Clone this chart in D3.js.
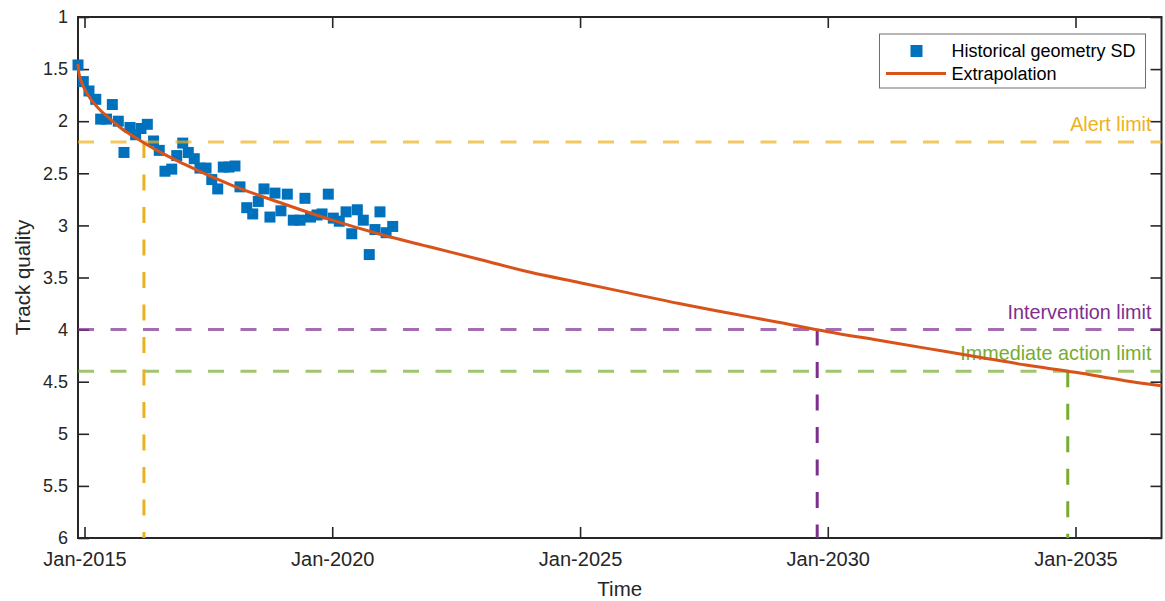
<!DOCTYPE html>
<html>
<head>
<meta charset="utf-8">
<script src="https://cdn.jsdelivr.net/npm/d3@7"></script>
<style>
  html, body { margin: 0; padding: 0; background: #fff; }
  svg { display: block; font-family: "Liberation Sans", Arial, Helvetica, sans-serif; }
</style>
</head>
<body>
<svg id="chart" width="1165" height="601"></svg>
<script>
const obsDates = [
  "2014-11-14","2014-12-23","2015-02-03","2015-03-25","2015-04-30","2015-06-12","2015-07-25","2015-09-07",
  "2015-10-19","2015-12-02","2016-01-13","2016-02-21","2016-04-08","2016-05-24","2016-07-05","2016-08-16",
  "2016-10-05","2016-11-11","2016-12-25","2017-02-04","2017-03-20","2017-05-01","2017-06-15","2017-07-27",
  "2017-09-09","2017-10-20","2017-12-01","2018-01-14","2018-02-20","2018-04-11","2018-05-25","2018-07-05",
  "2018-08-16","2018-09-29","2018-11-05","2018-12-19","2019-02-04","2019-03-20","2019-05-09","2019-06-14",
  "2019-07-25","2019-09-11","2019-10-18","2019-12-03","2020-01-09","2020-02-22","2020-04-12","2020-05-24",
  "2020-07-04","2020-08-17","2020-09-30","2020-11-11","2020-12-18","2021-02-01","2021-03-22"
];
const obsValues = [
  1.46, 1.62, 1.71, 1.79, 1.98, 1.98, 1.84, 2.00,
  2.30, 2.06, 2.13, 2.07, 2.03, 2.19, 2.28, 2.48,
  2.46, 2.33, 2.21, 2.30, 2.36, 2.45, 2.45, 2.56,
  2.65, 2.44, 2.44, 2.43, 2.63, 2.83, 2.89, 2.77,
  2.65, 2.92, 2.69, 2.86, 2.70, 2.95, 2.95, 2.74,
  2.92, 2.90, 2.89, 2.70, 2.93, 2.96, 2.87, 3.08,
  2.85, 2.95, 3.28, 3.04, 2.87, 3.07, 3.01
];

// extrapolation curve
const fitDates = [
  "2014-11-14","2014-11-21","2014-12-01","2014-12-15","2015-01-01","2015-02-01","2015-03-01","2015-05-01",
  "2015-07-01","2015-10-01","2016-01-01","2016-07-01","2017-01-01","2018-01-01","2019-01-01","2020-01-01",
  "2021-01-01","2022-01-01","2023-01-01","2024-01-01","2025-01-01","2026-01-01","2027-01-01","2028-01-01",
  "2029-01-01","2030-01-01","2031-01-01","2032-01-01","2033-01-01","2034-01-01","2035-01-01","2036-01-01",
  "2036-09-26"
];
const fitValues = [
  1.45, 1.54, 1.59, 1.64, 1.69, 1.76, 1.81, 1.90,
  1.97, 2.07, 2.15, 2.29, 2.41, 2.62, 2.79, 2.95,
  3.09, 3.21, 3.33, 3.45, 3.55, 3.65, 3.75, 3.84,
  3.93, 4.02, 4.10, 4.18, 4.26, 4.34, 4.41, 4.49,
  4.54
];

// maintenance limits and the dates where the curve reaches them
const limitNames = ["Alert limit", "Intervention limit", "Immediate action limit"];
const limitValues = [2.2, 4.0, 4.4];
const limitDates = ["2016-03-14", "2029-10-15", "2034-11-05"];
const limitColors = ["#EDB120", "#7E2F8E", "#77AC30"];

const xDomain = ["2014-11-14", "2036-09-26"];
const xTicks = ["2015-01-01", "2020-01-01", "2025-01-01", "2030-01-01", "2035-01-01"];
const yTicks = [1, 1.5, 2, 2.5, 3, 3.5, 4, 4.5, 5, 5.5, 6];

const parse = d3.timeParse("%Y-%m-%d");
const svg = d3.select("#chart");
const ink = "#262626";

const x = d3.scaleTime().domain(xDomain.map(parse)).range([78, 1161.5]);
const y = d3.scaleLinear().domain([1, 6]).range([17, 538]);
const [x0, x1] = x.range(), [y0, y1] = y.range();

// axes, ticks on all four sides pointing in
const tickLen = 11;
const styleAxis = size => g => {
  g.select(".domain").remove();
  g.selectAll(".tick line").attr("stroke", ink).attr("stroke-width", 1.6);
  g.selectAll(".tick text").attr("fill", ink).style("font-size", size);
};
svg.append("g").attr("transform", `translate(${x0},0)`)
  .call(d3.axisLeft(y).tickValues(yTicks).tickSize(-tickLen).tickPadding(10).tickFormat(d3.format("")))
  .call(styleAxis("18px"));
svg.append("g").attr("transform", `translate(${x1},0)`)
  .call(d3.axisRight(y).tickValues(yTicks).tickSize(-tickLen).tickFormat(""))
  .call(styleAxis("18px"));
svg.append("g").attr("transform", `translate(0,${y1})`)
  .call(d3.axisBottom(x).tickValues(xTicks.map(parse)).tickSize(-tickLen).tickPadding(14).tickFormat(d3.timeFormat("%b-%Y")))
  .call(styleAxis("20px"));
svg.append("g").attr("transform", `translate(0,${y0})`)
  .call(d3.axisTop(x).tickValues(xTicks.map(parse)).tickSize(-tickLen).tickFormat(""))
  .call(styleAxis("18px"));
svg.append("rect").attr("x", x0).attr("y", y0).attr("width", x1 - x0).attr("height", y1 - y0)
  .attr("fill", "none").attr("stroke", ink).attr("stroke-width", 2);

svg.append("text").attr("x", (x0 + x1) / 2).attr("y", 596).attr("text-anchor", "middle")
  .attr("fill", ink).style("font-size", "20.5px").text("Time");
svg.append("text").attr("transform", `translate(30,${(y0 + y1) / 2}) rotate(-90)`).attr("text-anchor", "middle")
  .attr("fill", ink).style("font-size", "20.5px").text("Track quality");

// observations
const sq = 11;
svg.append("g").selectAll("rect").data(obsDates.map((d, i) => ({ date: parse(d), v: obsValues[i] })))
  .join("rect")
  .attr("x", d => x(d.date) - sq / 2).attr("y", d => y(d.v) - sq / 2)
  .attr("width", sq).attr("height", sq).attr("fill", "#0072BD");

// limits
const dash = "16 16.5";
limitValues.forEach((v, i) => {
  svg.append("line").attr("x1", x0).attr("x2", x1).attr("y1", y(v)).attr("y2", y(v))
    .attr("stroke", limitColors[i]).attr("stroke-opacity", 0.7).attr("stroke-width", 3)
    .attr("stroke-dasharray", dash);
});
limitValues.forEach((v, i) => {
  const xd = x(parse(limitDates[i]));
  svg.append("line").attr("x1", xd).attr("x2", xd).attr("y1", y(v)).attr("y2", y1)
    .attr("stroke", limitColors[i]).attr("stroke-width", 3).attr("stroke-dasharray", dash);
  svg.append("text").attr("x", x1 - 10).attr("y", y(v) - 11).attr("text-anchor", "end")
    .attr("fill", limitColors[i]).style("font-size", "19.8px").text(limitNames[i]);
});

// extrapolation
const line = d3.line().x(d => x(d.date)).y(d => y(d.v)).curve(d3.curveMonotoneX);
svg.append("path").datum(fitDates.map((d, i) => ({ date: parse(d), v: fitValues[i] })))
  .attr("d", line).attr("fill", "none").attr("stroke", "#D95319").attr("stroke-width", 3);

// legend
const lg = svg.append("g");
lg.append("rect").attr("x", 879.5).attr("y", 34).attr("width", 266).attr("height", 54)
  .attr("fill", "#fff").attr("stroke", "#6e6e6e").attr("stroke-width", 1);
lg.append("rect").attr("x", 916.5 - 6).attr("y", 51 - 6).attr("width", 12).attr("height", 12).attr("fill", "#0072BD");
lg.append("line").attr("x1", 886).attr("x2", 946).attr("y1", 73.5).attr("y2", 73.5)
  .attr("stroke", "#D95319").attr("stroke-width", 3);
lg.append("text").attr("x", 951.5).attr("y", 57).attr("fill", "#000").style("font-size", "18px").text("Historical geometry SD");
lg.append("text").attr("x", 951.5).attr("y", 80).attr("fill", "#000").style("font-size", "18px").text("Extrapolation");
</script>
</body>
</html>
